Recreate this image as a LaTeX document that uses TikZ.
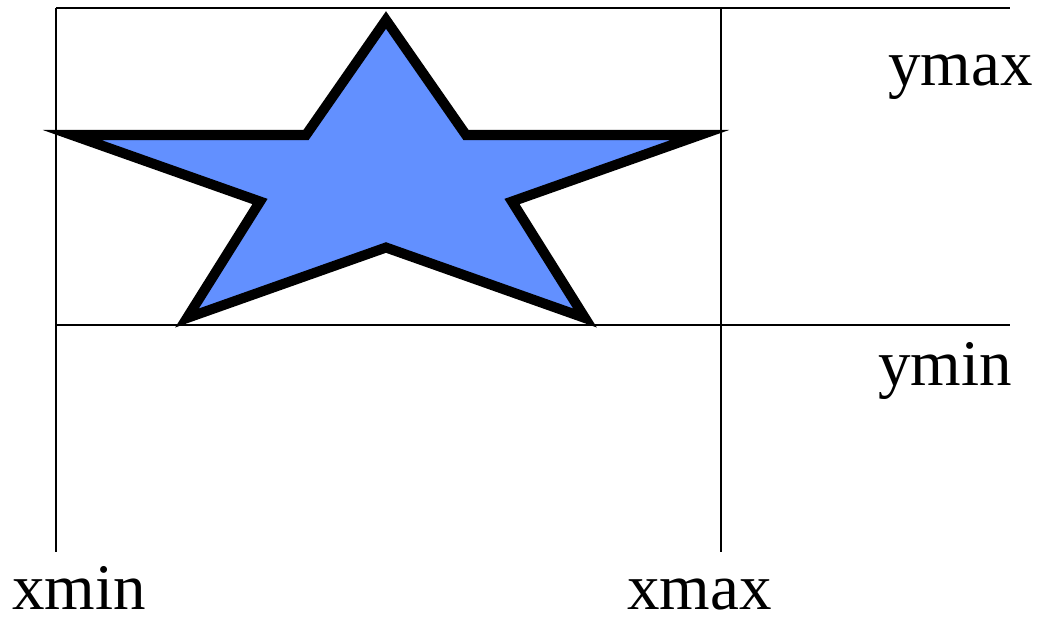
\documentclass[tikz,border=0pt]{standalone}
\usepackage{fontspec}
\setmainfont{Liberation Serif}
\definecolor{starblue}{RGB}{98,144,255}
\begin{document}
\begin{tikzpicture}[x=0.02cm,y=-0.02cm,
  guide/.style={black,line width=1.2pt},
  starshape/.style={fill=starblue,draw=black,line width=5.7pt,line join=miter,miter limit=10},
  lbl/.style={inner sep=0pt,font=\fontsize{37}{40}\selectfont}]
\useasboundingbox (0,0) rectangle (1041,616);
% guide lines
\coordinate (t0) at (56,8);   \coordinate (t1) at (1010,8);
\coordinate (b0) at (56,325); \coordinate (b1) at (1010,325);
\coordinate (v0) at (56,552); \coordinate (v1) at (721,8); \coordinate (v2) at (721,552);
\draw[guide] (t0) -- (t1);
\draw[guide] (b0) -- (b1);
\draw[guide] (t0) -- (v0);
\draw[guide] (v1) -- (v2);
% star
\draw[starshape] (386,20) -- (466,135) -- (700,135) -- (512,201.5) -- (585,318)
  -- (386,247.5) -- (187,318) -- (260,201.5) -- (72,135) -- (306,135) -- cycle;
% labels
\node[lbl,anchor=base east] (ymax) at (1033,85) {ymax};
\node[lbl,anchor=base east] (ymin) at (1012,385) {ymin};
\node[lbl,anchor=base west] (xmin) at (12,609) {xmin};
\node[lbl,anchor=base east] (xmax) at (772,609) {xmax};
\end{tikzpicture}
\end{document}
